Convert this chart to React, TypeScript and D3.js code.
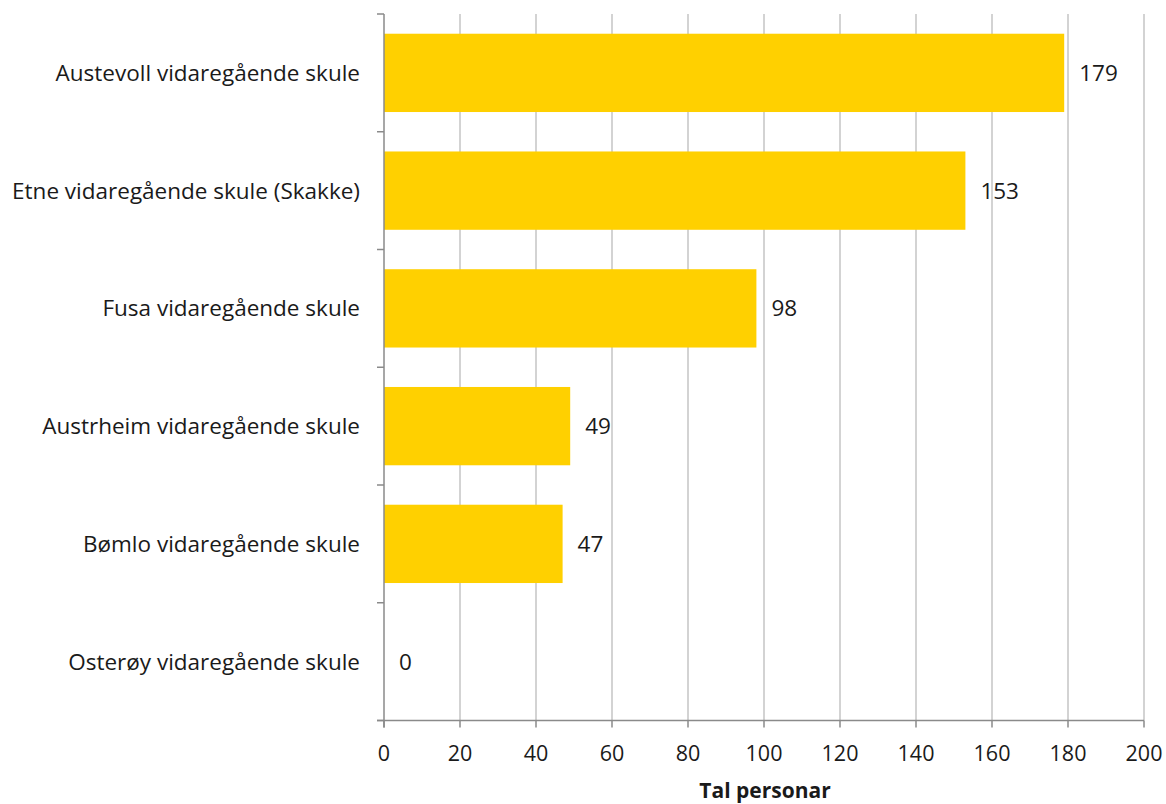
import React from "react";
import * as d3 from "d3";

const categories = [
  "Austevoll vidaregående skule",
  "Etne vidaregående skule (Skakke)",
  "Fusa vidaregående skule",
  "Austrheim vidaregående skule",
  "Bømlo vidaregående skule",
  "Osterøy vidaregående skule",
];
const values = [179, 153, 98, 49, 47, 0];
const xTicks = [0, 20, 40, 60, 80, 100, 120, 140, 160, 180, 200];
const xTitle = "Tal personar";

const W = 1166;
const H = 804;
const FONT = "'Open Sans', sans-serif";

export default function App() {
  const left = 384, right = 1144, top = 14, bottom = 720.5;
  const x = d3.scaleLinear().domain([0, 200]).range([left, right]);
  const y = d3.scaleBand<string>().domain(categories).range([top, bottom]).paddingInner(0.335).paddingOuter(0.1675);
  const step = y.step();
  return (
    <div style={{ position: "fixed", left: 0, top: 0 }}>
      <svg width={W} height={H} style={{ display: "block", background: "#fff" }}>
        {xTicks.slice(1).map((t) => (
          <line key={"g" + t} x1={x(t)} x2={x(t)} y1={top} y2={bottom} stroke="#c4c4c4" strokeWidth={1.5} />
        ))}
        {categories.map((c, i) => (
          <rect key={c} x={x(0)} y={y(c)!} width={x(values[i]) - x(0)} height={y.bandwidth()} fill="#FFD000" />
        ))}
        {/* y axis */}
        <line x1={left} x2={left} y1={top} y2={bottom + 7} stroke="#8a8a8a" strokeWidth={1.5} />
        {d3.range(categories.length + 1).map((i) => (
          <line key={"yt" + i} x1={left - 7} x2={left} y1={top + i * step} y2={top + i * step} stroke="#8a8a8a" strokeWidth={1.5} />
        ))}
        {/* x axis */}
        <line x1={left - 7} x2={right} y1={bottom} y2={bottom} stroke="#8a8a8a" strokeWidth={1.5} />
        {xTicks.map((t) => (
          <g key={"xt" + t}>
            <line x1={x(t)} x2={x(t)} y1={bottom} y2={bottom + 7} stroke="#8a8a8a" strokeWidth={1.5} />
            <text x={x(t)} y={761} textAnchor="middle" fontFamily={FONT} fontSize={21.5} fill="#1a1a1a">{t}</text>
          </g>
        ))}
        {categories.map((c, i) => (
          <g key={"l" + c}>
            <text x={360} y={y(c)! + y.bandwidth() / 2} dy="0.35em" textAnchor="end" fontFamily={FONT} fontSize={22.5} fill="#1a1a1a">{c}</text>
            <text x={x(values[i]) + 15} y={y(c)! + y.bandwidth() / 2} dy="0.35em" textAnchor="start" fontFamily={FONT} fontSize={22.5} fill="#1a1a1a">{values[i]}</text>
          </g>
        ))}
        <text x={765} y={798} textAnchor="middle" fontFamily={FONT} fontSize={21} fontWeight="bold" fill="#1a1a1a">{xTitle}</text>
      </svg>
    </div>
  );
}
